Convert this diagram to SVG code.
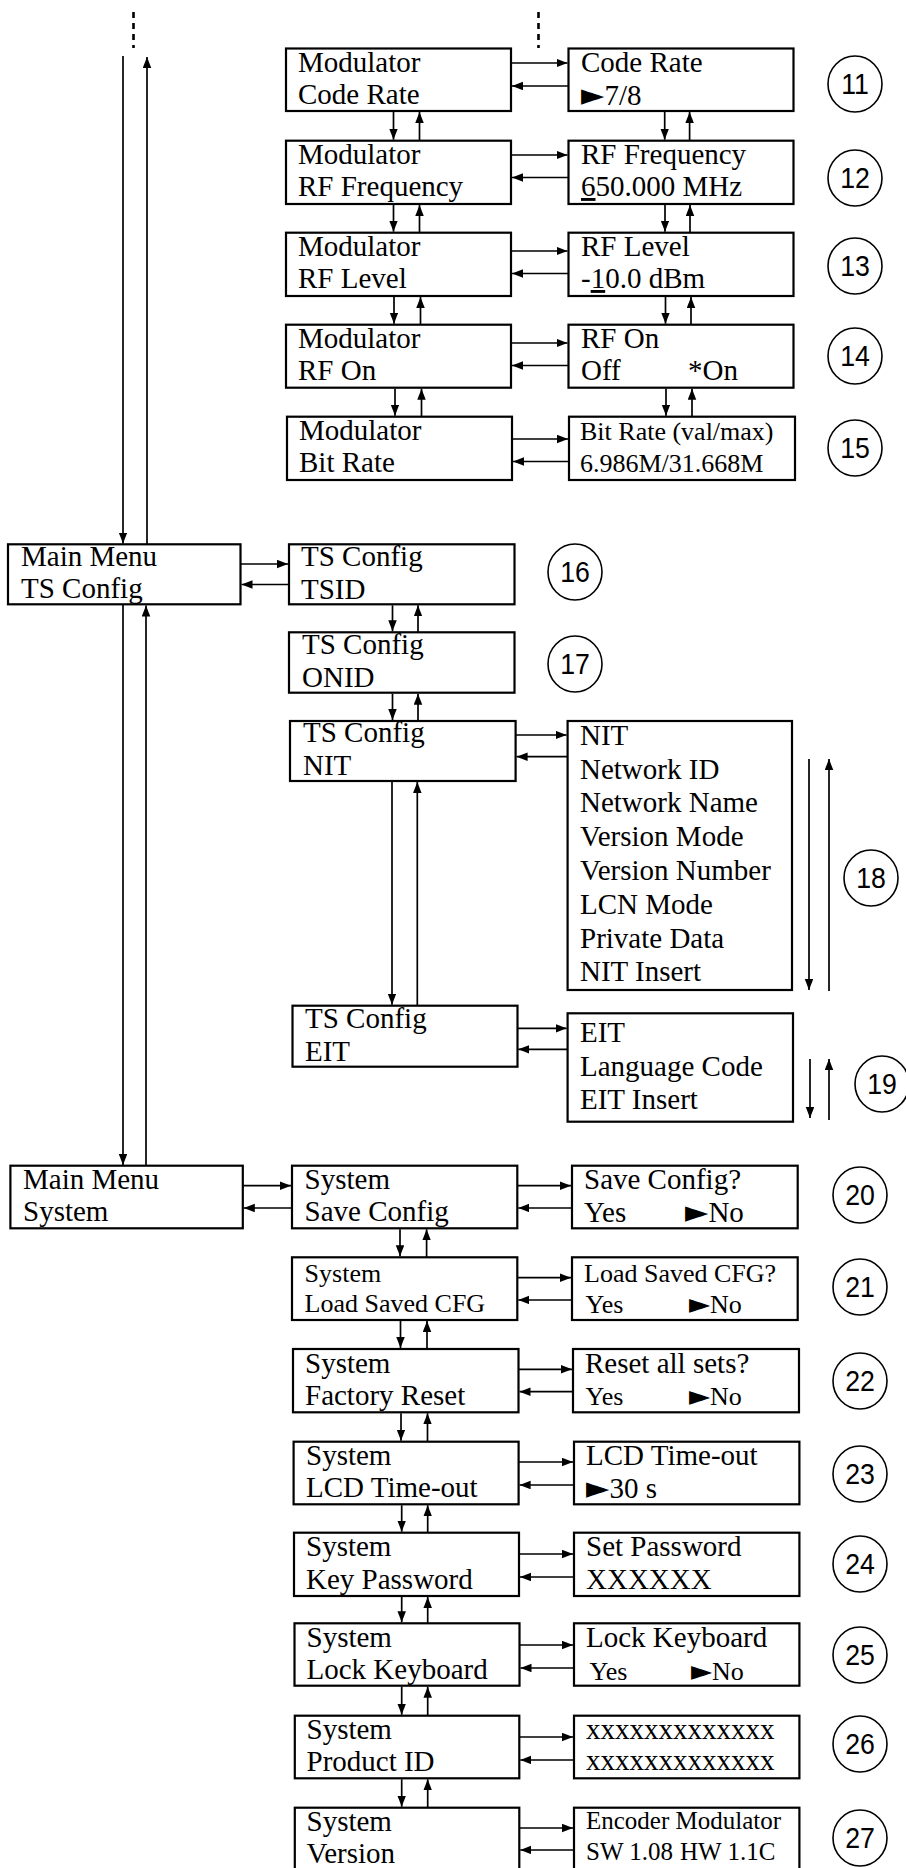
<svg xmlns="http://www.w3.org/2000/svg" width="906" height="1868" viewBox="0 0 906 1868">
<defs>
<marker id="ah" markerUnits="userSpaceOnUse" markerWidth="12" markerHeight="9" refX="11" refY="4.25" orient="auto">
<path d="M0,0 L11,4.25 L0,8.5 z" fill="#000"/>
</marker>
<style>
.b{fill:#fff;stroke:#000;stroke-width:2.2}
.t,.s,.xs{font-family:'Liberation Serif','DejaVu Sans',serif;fill:#000}
.t{font-size:29px}
.s{font-size:26px}
.xs{font-size:25px}
.tri{font-family:'DejaVu Sans',sans-serif;font-size:1.05em}
.a{fill:none;stroke:#000;stroke-width:1.7;marker-end:url(#ah)}
.d{fill:none;stroke:#000;stroke-width:2.6;stroke-dasharray:6 5}
.n{fill:none;stroke:#000;stroke-width:1.6}
.nt{font-family:'Liberation Sans',Arial,sans-serif;font-size:29px;fill:#000;text-anchor:middle;transform-box:fill-box;transform-origin:50% 50%;transform:scaleX(0.92)}
</style>
</defs>
<rect width="906" height="1868" fill="#fff"/>

<g id="mod-coderate"><rect class="b" x="286" y="48.5" width="225" height="62.5"/><text class="t" x="298" y="72">Modulator</text><text class="t" x="298" y="104">Code Rate</text></g>
<g id="coderate"><rect class="b" x="568.5" y="48.5" width="225" height="62.5"/><text class="t" x="581" y="72">Code Rate</text><text class="t" x="581" y="104.5"><tspan class="tri">►</tspan>7/8</text></g>
<g id="mod-rffreq"><rect class="b" x="286" y="140.7" width="225" height="63.3"/><text class="t" x="298" y="164">Modulator</text><text class="t" x="298" y="196">RF Frequency</text></g>
<g id="rffreq"><rect class="b" x="568.5" y="140.7" width="225" height="63.3"/><text class="t" x="581" y="164">RF Frequency</text><text class="t" x="581" y="196"><tspan text-decoration="underline">6</tspan>50.000 MHz</text></g>
<g id="mod-rflevel"><rect class="b" x="286" y="232.7" width="225" height="63.3"/><text class="t" x="298" y="256">Modulator</text><text class="t" x="298" y="288">RF Level</text></g>
<g id="rflevel"><rect class="b" x="568.5" y="232.7" width="225" height="63.3"/><text class="t" x="581" y="256">RF Level</text><text class="t" x="581" y="288">-<tspan text-decoration="underline">1</tspan>0.0 dBm</text></g>
<g id="mod-rfon"><rect class="b" x="286" y="324.7" width="225" height="63"/><text class="t" x="298" y="348">Modulator</text><text class="t" x="298" y="380">RF On</text></g>
<g id="rfon"><rect class="b" x="568.5" y="324.7" width="225" height="63"/><text class="t" x="581" y="348">RF On</text><text class="t" x="581" y="380">Off</text><text class="t" x="688" y="380">*On</text></g>
<g id="mod-bitrate"><rect class="b" x="287" y="416.7" width="225" height="63.3"/><text class="t" x="299" y="440">Modulator</text><text class="t" x="299" y="472">Bit Rate</text></g>
<g id="bitrate"><rect class="b" x="569" y="416.7" width="226" height="63.3"/><text class="s" x="580" y="440">Bit Rate (val/max)</text><text class="s" x="580" y="472">6.986M/31.668M</text></g>

<g id="main-ts"><rect class="b" x="8" y="544.3" width="232.5" height="60"/><text class="t" x="21" y="566">Main Menu</text><text class="t" x="21" y="598">TS Config</text></g>
<g id="ts-tsid"><rect class="b" x="289" y="544.3" width="225.5" height="60"/><text class="t" x="301" y="566">TS Config</text><text class="t" x="301" y="598.5">TSID</text></g>
<g id="ts-onid"><rect class="b" x="289" y="632.3" width="225.5" height="60.4"/><text class="t" x="302" y="654">TS Config</text><text class="t" x="302" y="686.5">ONID</text></g>
<g id="ts-nit"><rect class="b" x="290" y="721" width="225.6" height="60"/><text class="t" x="303" y="742">TS Config</text><text class="t" x="303" y="774.5">NIT</text></g>
<g id="nit-list"><rect class="b" x="567.6" y="721" width="224.4" height="269"/>
<text class="t" x="580" y="745">NIT</text>
<text class="t" x="580" y="778.5">Network ID</text>
<text class="t" x="580" y="812.3">Network Name</text>
<text class="t" x="580" y="846">Version Mode</text>
<text class="t" x="580" y="880">Version Number</text>
<text class="t" x="580" y="914">LCN Mode</text>
<text class="t" x="580" y="947.5">Private Data</text>
<text class="t" x="580" y="981">NIT Insert</text></g>
<g id="ts-eit"><rect class="b" x="292.5" y="1005.7" width="225" height="61"/><text class="t" x="305" y="1028">TS Config</text><text class="t" x="305" y="1061">EIT</text></g>
<g id="eit-list"><rect class="b" x="567.6" y="1013.3" width="225.4" height="108.4"/>
<text class="t" x="580" y="1042">EIT</text>
<text class="t" x="580" y="1075.7">Language Code</text>
<text class="t" x="580" y="1109.3">EIT Insert</text></g>

<g id="main-system"><rect class="b" x="10.4" y="1165.7" width="232.4" height="62.6"/><text class="t" x="23" y="1188.5">Main Menu</text><text class="t" x="23" y="1221">System</text></g>
<g id="sys-save"><rect class="b" x="292" y="1165.7" width="225.3" height="62.6"/><text class="t" x="304.6" y="1188.5">System</text><text class="t" x="304.6" y="1221">Save Config</text></g>
<g id="save"><rect class="b" x="572" y="1165.7" width="225.7" height="62.6"/><text class="t" x="584" y="1188.5">Save Config?</text><text class="t" x="584" y="1221.5">Yes</text><text class="t" x="685" y="1221.5"><tspan class="tri">►</tspan>No</text></g>
<g id="sys-load"><rect class="b" x="292" y="1257.3" width="225.3" height="62.7"/><text class="s" x="304.6" y="1281.7">System</text><text class="s" x="304.6" y="1311.7">Load Saved CFG</text></g>
<g id="load"><rect class="b" x="572" y="1257.3" width="225.7" height="62.7"/><text class="s" x="584" y="1281.7">Load Saved CFG?</text><text class="s" x="585.5" y="1313">Yes</text><text class="s" x="689" y="1313"><tspan class="tri">►</tspan>No</text></g>
<g id="sys-reset"><rect class="b" x="293" y="1349" width="225.5" height="63.3"/><text class="t" x="305" y="1372.5">System</text><text class="t" x="305" y="1404.5">Factory Reset</text></g>
<g id="reset"><rect class="b" x="573" y="1349" width="226" height="63.3"/><text class="t" x="585" y="1372.5">Reset all sets?</text><text class="s" x="585.5" y="1405">Yes</text><text class="s" x="689" y="1405"><tspan class="tri">►</tspan>No</text></g>
<g id="sys-lcd"><rect class="b" x="293.6" y="1441.7" width="225" height="62.6"/><text class="t" x="306" y="1464.5">System</text><text class="t" x="306" y="1497">LCD Time-out</text></g>
<g id="lcd"><rect class="b" x="574" y="1441.7" width="225.4" height="62.6"/><text class="t" x="586" y="1464.5">LCD Time-out</text><text class="t" x="586" y="1497.5"><tspan class="tri">►</tspan>30 s</text></g>
<g id="sys-key"><rect class="b" x="294" y="1532.7" width="225" height="63.3"/><text class="t" x="306" y="1556">System</text><text class="t" x="306" y="1588.5">Key Password</text></g>
<g id="key"><rect class="b" x="574" y="1532.7" width="225.4" height="63.3"/><text class="t" x="586" y="1556">Set Password</text><text class="t" x="586" y="1588.5">XXXXXX</text></g>
<g id="sys-lock"><rect class="b" x="294.5" y="1623.3" width="225" height="62.4"/><text class="t" x="306.5" y="1646.5">System</text><text class="t" x="306.5" y="1679">Lock Keyboard</text></g>
<g id="lock"><rect class="b" x="574" y="1623.3" width="225.4" height="62.4"/><text class="t" x="586" y="1646.5">Lock Keyboard</text><text class="s" x="589.5" y="1679.5">Yes</text><text class="s" x="691" y="1679.5"><tspan class="tri">►</tspan>No</text></g>
<g id="sys-pid"><rect class="b" x="294.8" y="1715.7" width="224.5" height="62.6"/><text class="t" x="306.5" y="1739">System</text><text class="t" x="306.5" y="1771">Product ID</text></g>
<g id="pid"><rect class="b" x="574" y="1715.7" width="225.4" height="62.6"/><text class="t" x="586" y="1739">xxxxxxxxxxxxx</text><text class="t" x="586" y="1770">xxxxxxxxxxxxx</text></g>
<g id="sys-ver"><rect class="b" x="294.8" y="1807.7" width="224.5" height="64"/><text class="t" x="306.5" y="1831">System</text><text class="t" x="306.5" y="1863">Version</text></g>
<g id="ver"><rect class="b" x="574" y="1807.7" width="225.4" height="64"/><text class="xs" x="586" y="1829">Encoder Modulator</text><text class="xs" x="586" y="1860">SW 1.08</text><text class="xs" x="680" y="1860">HW 1.1C</text></g>

<g id="labels">
<g id="n11"><ellipse class="n" cx="855" cy="84" rx="27" ry="28"/><text class="nt" x="855" y="94.5">11</text></g>
<g id="n12"><ellipse class="n" cx="855" cy="178" rx="27" ry="28"/><text class="nt" x="855" y="188.5">12</text></g>
<g id="n13"><ellipse class="n" cx="855" cy="266" rx="27" ry="28"/><text class="nt" x="855" y="276.5">13</text></g>
<g id="n14"><ellipse class="n" cx="855" cy="356" rx="27" ry="28"/><text class="nt" x="855" y="366.5">14</text></g>
<g id="n15"><ellipse class="n" cx="855" cy="448" rx="27" ry="28"/><text class="nt" x="855" y="458.5">15</text></g>
<g id="n16"><ellipse class="n" cx="575" cy="572" rx="27" ry="28"/><text class="nt" x="575" y="582.5">16</text></g>
<g id="n17"><ellipse class="n" cx="575" cy="664" rx="27" ry="28"/><text class="nt" x="575" y="674.5">17</text></g>
<g id="n18"><ellipse class="n" cx="871" cy="878" rx="27" ry="28"/><text class="nt" x="871" y="888.5">18</text></g>
<g id="n19"><ellipse class="n" cx="882" cy="1084" rx="27" ry="28"/><text class="nt" x="882" y="1094.5">19</text></g>
<g id="n20"><ellipse class="n" cx="860" cy="1195" rx="27" ry="28"/><text class="nt" x="860" y="1205.5">20</text></g>
<g id="n21"><ellipse class="n" cx="860" cy="1287" rx="27" ry="28"/><text class="nt" x="860" y="1297.5">21</text></g>
<g id="n22"><ellipse class="n" cx="860" cy="1381" rx="27" ry="28"/><text class="nt" x="860" y="1391.5">22</text></g>
<g id="n23"><ellipse class="n" cx="860" cy="1474" rx="27" ry="28"/><text class="nt" x="860" y="1484.5">23</text></g>
<g id="n24"><ellipse class="n" cx="860" cy="1564" rx="27" ry="28"/><text class="nt" x="860" y="1574.5">24</text></g>
<g id="n25"><ellipse class="n" cx="860" cy="1655" rx="27" ry="28"/><text class="nt" x="860" y="1665.5">25</text></g>
<g id="n26"><ellipse class="n" cx="860" cy="1744" rx="27" ry="28"/><text class="nt" x="860" y="1754.5">26</text></g>
<g id="n27"><ellipse class="n" cx="860" cy="1838" rx="27" ry="28"/><text class="nt" x="860" y="1848.5">27</text></g>
</g>

<g id="connectors">
<line class="d" x1="133.5" y1="12" x2="133.5" y2="48"/>
<line class="d" x1="538.5" y1="12" x2="538.5" y2="48"/>
<line class="a" x1="123" y1="56" x2="123" y2="543.5"/>
<line class="a" x1="147" y1="544" x2="147" y2="57"/>
<line class="a" x1="123" y1="604.5" x2="123" y2="1165"/>
<line class="a" x1="146" y1="1165.5" x2="146" y2="605.5"/>
<line class="a" x1="511" y1="63" x2="567.5" y2="63"/>
<line class="a" x1="568.5" y1="86" x2="512" y2="86"/>
<line class="a" x1="511" y1="155" x2="567.5" y2="155"/>
<line class="a" x1="568.5" y1="177.5" x2="512" y2="177.5"/>
<line class="a" x1="511" y1="251" x2="567.5" y2="251"/>
<line class="a" x1="568.5" y1="273.5" x2="512" y2="273.5"/>
<line class="a" x1="511" y1="343" x2="567.5" y2="343"/>
<line class="a" x1="568.5" y1="365.5" x2="512" y2="365.5"/>
<line class="a" x1="512" y1="439" x2="568" y2="439"/>
<line class="a" x1="569" y1="461.5" x2="513" y2="461.5"/>
<line class="a" x1="393.5" y1="112" x2="393.5" y2="139.7"/>
<line class="a" x1="419.5" y1="140.7" x2="419.5" y2="112"/>
<line class="a" x1="393.5" y1="205" x2="393.5" y2="231.7"/>
<line class="a" x1="419.5" y1="232.7" x2="419.5" y2="205"/>
<line class="a" x1="394" y1="297" x2="394" y2="323.7"/>
<line class="a" x1="420.5" y1="324.7" x2="420.5" y2="297"/>
<line class="a" x1="395" y1="388.7" x2="395" y2="415.7"/>
<line class="a" x1="421.5" y1="416.7" x2="421.5" y2="388.7"/>
<line class="a" x1="664.7" y1="112" x2="664.7" y2="139.7"/>
<line class="a" x1="689.6" y1="140.7" x2="689.6" y2="112"/>
<line class="a" x1="665" y1="205" x2="665" y2="231.7"/>
<line class="a" x1="690" y1="232.7" x2="690" y2="205"/>
<line class="a" x1="665.5" y1="297" x2="665.5" y2="323.7"/>
<line class="a" x1="691" y1="324.7" x2="691" y2="297"/>
<line class="a" x1="666" y1="388.7" x2="666" y2="415.7"/>
<line class="a" x1="692" y1="416.7" x2="692" y2="388.7"/>
<line class="a" x1="240.5" y1="564" x2="288" y2="564"/>
<line class="a" x1="289" y1="584.5" x2="241.5" y2="584.5"/>
<line class="a" x1="392.5" y1="605.3" x2="392.5" y2="631.3"/>
<line class="a" x1="418" y1="632.3" x2="418" y2="605.3"/>
<line class="a" x1="392.5" y1="693.7" x2="392.5" y2="720"/>
<line class="a" x1="418" y1="721" x2="418" y2="693.7"/>
<line class="a" x1="515.6" y1="735" x2="566.6" y2="735"/>
<line class="a" x1="567.6" y1="756.7" x2="516.6" y2="756.7"/>
<line class="a" x1="392" y1="782" x2="392" y2="1004.7"/>
<line class="a" x1="417.3" y1="1005.7" x2="417.3" y2="782"/>
<line class="a" x1="809" y1="759" x2="809" y2="990"/>
<line class="a" x1="829" y1="991" x2="829" y2="759"/>
<line class="a" x1="517.3" y1="1028.3" x2="566.6" y2="1028.3"/>
<line class="a" x1="567.6" y1="1049.3" x2="518.3" y2="1049.3"/>
<line class="a" x1="810" y1="1059" x2="810" y2="1118"/>
<line class="a" x1="829" y1="1120" x2="829" y2="1059"/>
<line class="a" x1="242.8" y1="1185.7" x2="291" y2="1185.7"/>
<line class="a" x1="292" y1="1208" x2="243.8" y2="1208"/>
<line class="a" x1="517.3" y1="1185.7" x2="571" y2="1185.7"/>
<line class="a" x1="572" y1="1208" x2="518.3" y2="1208"/>
<line class="a" x1="517.3" y1="1277.7" x2="571" y2="1277.7"/>
<line class="a" x1="572" y1="1300" x2="518.3" y2="1300"/>
<line class="a" x1="518.5" y1="1369.3" x2="572" y2="1369.3"/>
<line class="a" x1="573" y1="1391.7" x2="519.5" y2="1391.7"/>
<line class="a" x1="518.6" y1="1462" x2="573" y2="1462"/>
<line class="a" x1="574" y1="1485" x2="519.6" y2="1485"/>
<line class="a" x1="519" y1="1554" x2="573" y2="1554"/>
<line class="a" x1="574" y1="1577" x2="520" y2="1577"/>
<line class="a" x1="519.5" y1="1645" x2="573" y2="1645"/>
<line class="a" x1="574" y1="1668" x2="520.5" y2="1668"/>
<line class="a" x1="519.3" y1="1737" x2="573" y2="1737"/>
<line class="a" x1="574" y1="1760" x2="520.3" y2="1760"/>
<line class="a" x1="519.3" y1="1828" x2="573" y2="1828"/>
<line class="a" x1="574" y1="1850" x2="520.3" y2="1850"/>
<line class="a" x1="400" y1="1229.3" x2="400" y2="1256.3"/>
<line class="a" x1="426.6" y1="1257.3" x2="426.6" y2="1229.3"/>
<line class="a" x1="400.5" y1="1321" x2="400.5" y2="1348"/>
<line class="a" x1="427" y1="1349" x2="427" y2="1321"/>
<line class="a" x1="401" y1="1413.3" x2="401" y2="1440.7"/>
<line class="a" x1="427.5" y1="1441.7" x2="427.5" y2="1413.3"/>
<line class="a" x1="401.7" y1="1505.3" x2="401.7" y2="1531.7"/>
<line class="a" x1="427.7" y1="1532.7" x2="427.7" y2="1505.3"/>
<line class="a" x1="401.7" y1="1597" x2="401.7" y2="1622.3"/>
<line class="a" x1="427.7" y1="1623.3" x2="427.7" y2="1597"/>
<line class="a" x1="401.7" y1="1686.7" x2="401.7" y2="1714.7"/>
<line class="a" x1="427.7" y1="1715.7" x2="427.7" y2="1686.7"/>
<line class="a" x1="401.7" y1="1779.3" x2="401.7" y2="1806.7"/>
<line class="a" x1="427.7" y1="1807.7" x2="427.7" y2="1779.3"/>
</g>
</svg>
